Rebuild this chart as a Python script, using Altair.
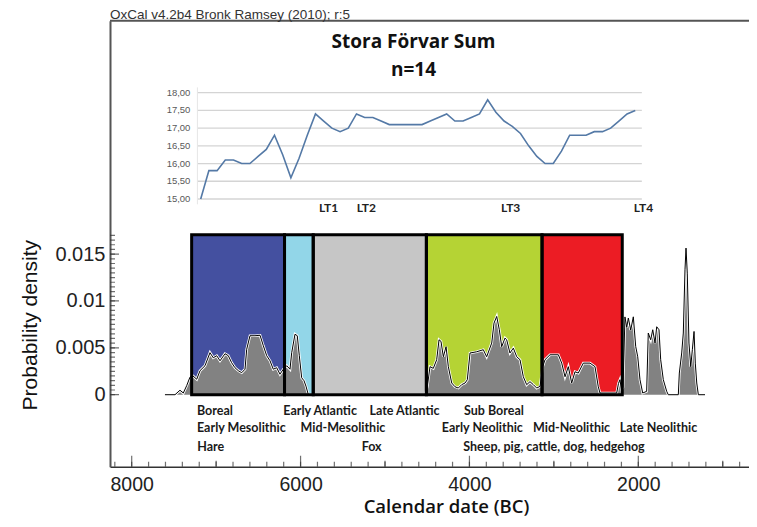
import altair as alt
import pandas as pd

# ---------------- data ----------------
# summed probability density (calendar year BC, density)
dens_year = [7606, 7487, 7428, 7389, 7349, 7310, 7278, 7230, 7191, 7132, 7073, 7034, 6993, 6954,
             6895, 6856, 6816, 6777, 6737, 6697, 6658, 6638, 6599, 6540, 6480, 6441, 6401, 6362,
             6323, 6283, 6244, 6204, 6164, 6125, 6105, 6066, 6039, 6015, 5987, 5959, 5936, 5908,
             4526, 4499, 4467, 4428, 4388, 4360, 4337, 4309, 4277, 4250, 4210, 4171, 4132, 4092,
             4052, 4025, 3993, 3914, 3836, 3796, 3736, 3709, 3677, 3646, 3618, 3579, 3559, 3520,
             3480, 3440, 3401, 3362, 3322, 3283, 3243, 3203, 3164, 3132, 3105, 3046, 2947, 2907,
             2868, 2829, 2789, 2750, 2711, 2651, 2572, 2513, 2474, 2454, 2256, 2235, 2217, 2199,
             2181, 2158, 2137, 2118, 2090, 2059, 2031, 2007, 1980, 1948, 1901, 1882, 1853, 1829,
             1802, 1782, 1755, 1735, 1704, 1664, 1645, 1526, 1514, 1486, 1467, 1447, 1435, 1420,
             1400, 1379, 1360, 1340, 1325, 1308, 1289, 1210]
dens_val = [0, 0, 0.00048, 0.00018, 0.00096, 0.00187, 0.00203, 0.00165, 0.00256, 0.00309, 0.00448,
            0.00394, 0.00416, 0.00362, 0.00437, 0.00416, 0.00341, 0.00288, 0.00256, 0.00235, 0.00272,
            0.00485, 0.00629, 0.00629, 0.00634, 0.00522, 0.00416, 0.00362, 0.00272, 0.00288, 0.00219,
            0.00272, 0.00309, 0.00272, 0.00448, 0.00645, 0.00629, 0.00416, 0.00181, 0.00149, 0.00091, 0,
            0, 0.00085, 0.00299, 0.00281, 0.00373, 0.00586, 0.00569, 0.00405, 0.00512, 0.00299,
            0.00125, 0.00085, 0.00071, 0.00107, 0.00125, 0.0016, 0.00445, 0.00458, 0.0048, 0.00405,
            0.00551, 0.00764, 0.00835, 0.00693, 0.00512, 0.00604, 0.00586, 0.00445, 0.00497, 0.00405,
            0.00373, 0.00192, 0.00107, 0.00139, 0.00107, 0.00071, 0.00089, 0.00299, 0.00373, 0.00426,
            0.00426, 0.00337, 0.00192, 0.00299, 0.00125, 0.00245, 0.00231, 0.00337, 0.00337, 0.00299,
            0.00085, 0.00018, 0.00018, 0.0012, 0.0016, 0.0005, 0.0008, 0.0083, 0.00718, 0.00818,
            0.0069, 0.00831, 0.00515, 0.00405, 0.0016, 0.00018, 0.00036, 0.00658, 0.00586, 0.00693,
            0.00551, 0.00725, 0.00693, 0.00373, 0.0016, 0.00036, 0, 0, 0.00231, 0.00445, 0.00658,
            0.01333, 0.01564, 0.01297, 0.00551, 0.00299, 0.0048, 0.00675, 0.00337, 0.00125, 0, 0]

# coloured period boxes
period_names = ["Boreal", "Early Atlantic", "Late Atlantic", "Sub Boreal", "Mid-Neolithic"]
period_start = [7290, 6190, 5850, 4510, 3140]
period_end = [6190, 5850, 4510, 3140, 2190]
period_top = 0.01706
period_colors = ["#4450A0", "#92D6E8", "#C6C6C6", "#B5D334", "#EC1C24"]

# annotation texts under the curve
label_text = ["Boreal", "Early Atlantic", "Late Atlantic", "Sub Boreal",
              "Early Mesolithic", "Mid-Mesolithic", "Early Neolithic", "Mid-Neolithic", "Late Neolithic",
              "Hare", "Fox", "Sheep, pig, cattle, dog, hedgehog"]
label_year = [7227, 6204, 5184, 4064, 7227, 6000, 4327, 3247, 2221, 7223, 5276, 4073]
label_level = [-0.0017, -0.0017, -0.0017, -0.0017,
               -0.00352, -0.00352, -0.00352, -0.00352, -0.00352,
               -0.00554, -0.00554, -0.00554]

# axis ticks
x_major = [8000, 6000, 4000, 2000]
x_mid = [7000, 5000, 3000, 1000]
x_minor = list(range(8200, 799, -200))
y_major = [0, 0.005, 0.01, 0.015]
y_minor = [round(i * 0.0005, 4) for i in range(0, 35)]

# inset line chart (Excel style)
inset_val = [15.0, 15.8, 15.8, 16.1, 16.1, 16.0, 16.0, 16.2, 16.4, 16.8, 16.25, 15.6, 16.15, 16.8,
             17.4, 17.2, 17.0, 16.9, 17.0, 17.4, 17.3, 17.3, 17.2, 17.1, 17.1, 17.1, 17.1, 17.1,
             17.2, 17.3, 17.4, 17.2, 17.2, 17.3, 17.4, 17.8, 17.45, 17.2, 17.05, 16.85, 16.5, 16.2,
             16.0, 16.0, 16.35, 16.8, 16.8, 16.8, 16.9, 16.9, 17.0, 17.2, 17.4, 17.5]
inset_idx = list(range(len(inset_val)))
grid_vals = [15.0, 15.5, 16.0, 16.5, 17.0, 17.5, 18.0]
grid_labels = ["15,00", "15,50", "16,00", "16,50", "17,00", "17,50", "18,00"]
lt_names = ["LT1", "LT2", "LT3", "LT4"]
lt_pos = [15.6, 20.2, 37.8, 54.0]

# ---------------- chart ----------------
W, H = 639, 446
XS = dict(domain=[689, 8257], reverse=True, nice=False, zero=False)
YS = dict(domain=[-0.00768, 0.0399], nice=False, zero=False)


def mx(field, **kw):
    return alt.X(field, scale=alt.Scale(**XS), **kw)


def my(field, **kw):
    return alt.Y(field, scale=alt.Scale(**YS), **kw)


periods = pd.DataFrame({"name": period_names, "start": period_start, "end": period_end,
                        "base": 0.0, "top": period_top})
dens = pd.DataFrame({"year": dens_year, "d": dens_val})

x_axis = alt.Axis(values=x_major, labelExpr="format(datum.value, 'd')", ticks=False, grid=False,
                  domainColor="#333333", domainWidth=1.6,
                  labelFont="Liberation Sans", labelFontSize=19.5, labelColor="#222222",
                  labelPadding=9, labelFlush=False,
                  title="Calendar date (BC)", titleFont="Open Sans", titleFontSize=18.5,
                  titleFontWeight=600, titleColor="#111111",
                  titleX=336, titleY=39.5, titleAlign="center", titleBaseline="middle")
y_axis = alt.Axis(values=y_major, labelExpr="format(datum.value, '.3~f')", ticks=False, grid=False,
                  domainColor="#555555", domainWidth=2,
                  labelFont="Liberation Sans", labelFontSize=20, labelColor="#222222",
                  labelPadding=5,
                  title="Probability density", titleFont="Liberation Sans", titleFontSize=21,
                  titleFontWeight="normal", titleColor="#111111",
                  titleX=-80, titleY=304, titleAngle=270, titleAlign="center",
                  titleBaseline="middle")

rects = alt.Chart(periods).mark_rect().encode(
    x=mx("start:Q", axis=x_axis),
    x2="end:Q",
    y=my("base:Q", axis=y_axis),
    y2="top:Q",
    color=alt.Color("name:N", scale=alt.Scale(domain=period_names, range=period_colors),
                    legend=None),
)

area = alt.Chart(dens).mark_area(color="#828282", interpolate="linear").encode(
    x=mx("year:Q", axis=None), y=my("d:Q", axis=None))
halo = alt.Chart(dens).mark_line(color="white", strokeWidth=2.6).encode(
    x=mx("year:Q", axis=None), y=my("d:Q", axis=None))
outline = alt.Chart(dens).mark_line(color="black", strokeWidth=1).encode(
    x=mx("year:Q", axis=None), y=my("d:Q", axis=None))
borders = alt.Chart(periods).mark_rect(fillOpacity=0, stroke="black", strokeWidth=3).encode(
    x=mx("start:Q", axis=None), x2="end:Q", y=my("base:Q", axis=None), y2="top:Q")

labels = alt.Chart(pd.DataFrame({"t": label_text, "year": label_year, "lv": label_level})).mark_text(
    align="left", baseline="middle", font="Lato", fontWeight="bold", fontSize=12.5, color="#1a1a1a"
).encode(x=mx("year:Q", axis=None), y=my("lv:Q", axis=None), text="t:N")


def xticks(vals, size):
    return alt.Chart(pd.DataFrame({"v": vals})).mark_tick(
        orient="vertical", size=size, thickness=1.2, color="#333333", clip=True
    ).encode(x=mx("v:Q", axis=None), y=alt.value(H))


def yticks(vals, size):
    return alt.Chart(pd.DataFrame({"v": vals})).mark_tick(
        orient="horizontal", size=size, thickness=1.2, color="#333333", clip=True
    ).encode(y=my("v:Q", axis=None), x=alt.value(0))


top_line = alt.Chart(pd.DataFrame({"a": [0]})).mark_rule(color="#555555", strokeWidth=2).encode(
    x=alt.value(0), x2=alt.value(W), y=alt.value(0))

oxcal = alt.Chart(pd.DataFrame({"t": ["OxCal v4.2b4 Bronk Ramsey (2010); r:5"]})).mark_text(
    align="left", baseline="middle", font="Liberation Sans", fontSize=13.5, color="#333333"
).encode(x=alt.value(0), y=alt.value(-5.5), text="t:N")

# ---- inset ----
XI = dict(domain=[-11.06, 66.87], nice=False, zero=False)
YI = dict(domain=[7.444, 20.032], nice=False, zero=False)


def ix(field):
    return alt.X(field, scale=alt.Scale(**XI), axis=None)


def iy(field):
    return alt.Y(field, scale=alt.Scale(**YI), axis=None)


grid_df = pd.DataFrame({"v": grid_vals, "lab": grid_labels, "lo": -0.4, "hi": 53.8})
grid = alt.Chart(grid_df).mark_rule(color="#D4D4D4", strokeWidth=1.3).encode(
    x=ix("lo:Q"), x2="hi:Q", y=iy("v:Q"))
grid_text = alt.Chart(grid_df).mark_text(
    align="right", baseline="middle", dx=-7, font="Liberation Sans", fontSize=9.5, color="#595959"
).encode(x=ix("lo:Q"), y=iy("v:Q"), text="lab:N")
vline = alt.Chart(pd.DataFrame({"x": [-0.4], "a": [14.85], "b": [18.15]})).mark_rule(
    color="#E6E6E6", strokeWidth=1).encode(x=ix("x:Q"), y=iy("a:Q"), y2="b:Q")
inset_line = alt.Chart(pd.DataFrame({"i": inset_idx, "v": inset_val})).mark_line(
    color="#5479A6", strokeWidth=1.6).encode(x=ix("i:Q"), y=iy("v:Q"))
lt = alt.Chart(pd.DataFrame({"t": lt_names, "p": lt_pos, "v": 14.75})).mark_text(
    align="center", baseline="middle", font="Lato", fontWeight="bold", fontSize=12, color="#222222"
).encode(x=ix("p:Q"), y=iy("v:Q"), text="t:N")
titles = alt.Chart(pd.DataFrame({"t": ["Stora Förvar Sum", "n=14"], "p": [25.95, 25.95],
                                 "v": [19.43, 18.64]})).mark_text(
    align="center", baseline="middle", font="Open Sans", fontWeight="bold", fontSize=19,
    color="#111111"
).encode(x=ix("p:Q"), y=iy("v:Q"), text="t:N")

chart = alt.layer(
    rects, area, halo, outline, borders,
    xticks(x_minor, 10), xticks(x_mid, 12), xticks(x_major, 22),
    yticks(y_minor, 10), yticks(y_major, 18),
    labels, top_line, oxcal,
    grid, vline, grid_text, inset_line, lt, titles,
).resolve_scale(x="independent", y="independent").properties(
    width=W, height=H,
    padding={"left": 102, "top": 12.7, "right": 0, "bottom": 52.3},
    autosize=alt.AutoSizeParams(type="none"),
    background="white",
).configure_view(stroke=None)

chart.save("out.html", embed_options={"renderer": "svg", "actions": False})
